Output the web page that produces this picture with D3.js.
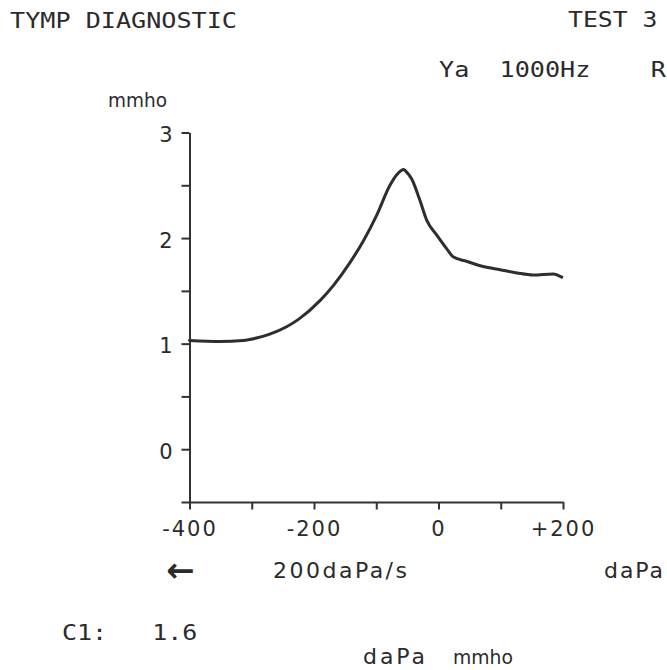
<!DOCTYPE html>
<html lang="en">
<head>
    <meta charset="UTF-8">
    <title>Tymp Diagnostic</title>
    <script src="https://d3js.org/d3.v7.min.js"></script>
    <style>
        body {
            margin: 0;
            background: #fff;
        }
        .mono {
            font-family: "DejaVu Sans Mono", monospace;
            font-size: 21px;
            fill: #2b2b2b;
            white-space: pre;
        }
        .sans {
            font-family: "DejaVu Sans", sans-serif;
            font-size: 22px;
            fill: #2b2b2b;
        }
        .axis path, .axis line {
            stroke: #333;
            stroke-width: 2px;
        }
        .axis text {
            font-family: "DejaVu Sans", sans-serif;
            font-size: 21px;
            fill: #2b2b2b;
        }
    </style>
</head>
<body>
    <svg width="667" height="670"></svg>
    <script>
        // pressure sweep (daPa) and admittance (mmho)
        const pressure = [-400, -351, -314, -303, -271, -244, -225, -190, -169, -142, -121, -99, -78, -67, -60, -56,
                          -52, -43, -30, -19, -3, 13, 24, 45, 72, 99, 126, 152, 184, 198];
        const admittance = [1.03, 1.02, 1.03, 1.04, 1.09, 1.16, 1.23, 1.41, 1.55, 1.77, 1.97, 2.22, 2.50, 2.60, 2.64, 2.65,
                            2.63, 2.56, 2.36, 2.17, 2.03, 1.90, 1.82, 1.78, 1.73, 1.70, 1.67, 1.65, 1.66, 1.63];

        const xTicks = [-400, -300, -200, -100, 0, 100, 200];
        const xLabels = {"-400": "-400", "-200": "-200", "0": "0", "200": "+200"};
        const yTicks = [-0.5, 0, 0.5, 1, 1.5, 2, 2.5, 3];
        const yLabels = {"0": "0", "1": "1", "2": "2", "3": "3"};

        // printer character pitch for the fixed-width lines
        const pitch = 15.3;

        const svg = d3.select("svg");

        const x = d3.scaleLinear().domain([-400, 200]).range([189.5, 563]);
        const y = d3.scaleLinear().domain([-0.5, 3]).range([502, 132.5]);

        // axes
        const xAxis = svg.append("g")
            .attr("class", "axis")
            .attr("transform", "translate(0," + y(-0.5) + ")")
            .call(d3.axisBottom(x)
                .tickValues(xTicks)
                .tickSize(7.5)
                .tickSizeOuter(0)
                .tickPadding(12)
                .tickFormat(d => xLabels[d] || ""));
        xAxis.selectAll("text").attr("letter-spacing", "2px");

        const yAxis = svg.append("g")
            .attr("class", "axis")
            .attr("transform", "translate(" + x(-400) + ",0)")
            .call(d3.axisLeft(y)
                .tickValues(yTicks)
                .tickSize(8)
                .tickSizeOuter(0)
                .tickPadding(9)
                .tickFormat(d => yLabels[d] || ""));
        yAxis.selectAll("text").attr("dy", "0.43em");

        // tympanogram curve
        const pts = pressure.map((p, i) => [p, admittance[i]]);
        const line = d3.line()
            .x(d => x(d[0]))
            .y(d => y(d[1]))
            .curve(d3.curveMonotoneX);

        svg.append("path")
            .datum(pts)
            .attr("d", line)
            .attr("fill", "none")
            .attr("stroke", "#2e2e2e")
            .attr("stroke-width", 3)
            .attr("stroke-linejoin", "round")
            .attr("stroke-linecap", "round");

        // printout header and labels (fixed pitch)
        function mono(tx, ty, str) {
            svg.append("text").attr("class", "mono")
                .attr("x", tx).attr("y", ty)
                .attr("textLength", str.length * pitch - 2.5)
                .attr("lengthAdjust", "spacingAndGlyphs")
                .text(str);
        }
        mono(10, 28, "TYMP DIAGNOSTIC");
        mono(568, 27, "TEST 3");
        mono(439, 77, "Ya  1000Hz    R");
        mono(62, 640, "C1:   1.6");

        svg.append("text").attr("class", "sans").attr("x", 108).attr("y", 107)
            .style("font-size", "19px").attr("textLength", 59).attr("lengthAdjust", "spacingAndGlyphs")
            .text("mmho");

        svg.append("text").attr("class", "sans").attr("x", 166).attr("y", 582)
            .style("font-size", "34px").style("font-weight", "bold")
            .text("←");
        svg.append("text").attr("class", "sans").attr("x", 273).attr("y", 578)
            .attr("textLength", 134).attr("lengthAdjust", "spacing")
            .text("200daPa/s");
        svg.append("text").attr("class", "sans").attr("x", 604).attr("y", 578)
            .attr("textLength", 59).attr("lengthAdjust", "spacing")
            .text("daPa");

        svg.append("text").attr("class", "sans").attr("x", 363).attr("y", 664)
            .attr("textLength", 62).attr("lengthAdjust", "spacing")
            .text("daPa");
        svg.append("text").attr("class", "sans").attr("x", 453).attr("y", 664)
            .style("font-size", "19px").attr("textLength", 60).attr("lengthAdjust", "spacingAndGlyphs")
            .text("mmho");
    </script>
</body>
</html>
